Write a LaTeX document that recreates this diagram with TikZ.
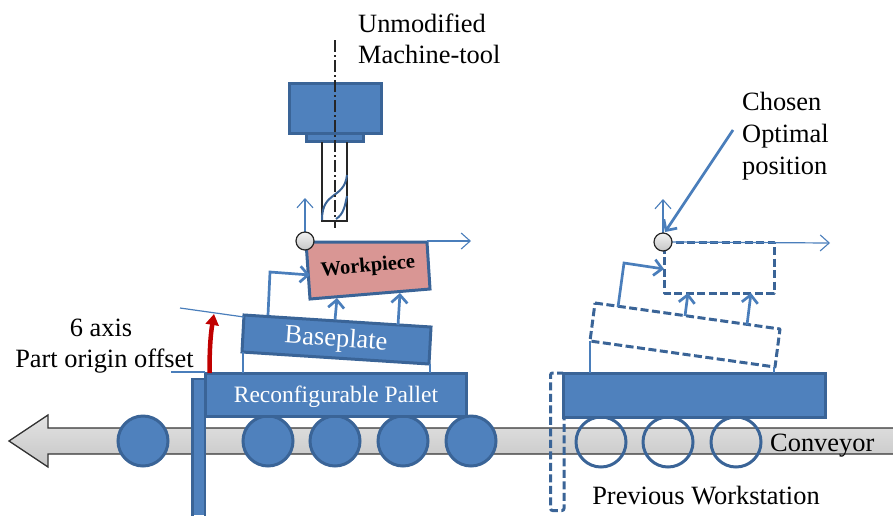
\documentclass[tikz,border=0pt]{standalone}
\usepackage{fontspec}
\setmainfont{Liberation Serif}
\usetikzlibrary{arrows.meta}
\definecolor{bfill}{HTML}{4F81BD}
\definecolor{bedge}{HTML}{3A6497}
\definecolor{bline}{HTML}{4A7EBB}
\definecolor{pinkf}{HTML}{D99694}
\definecolor{redarrow}{HTML}{C00000}
\newcommand{\fs}[1]{\fontsize{#1}{#1}\selectfont}
\tikzset{
  solidpart/.style={draw=bedge,fill=bfill,line width=3pt,line join=miter},
  hollowwheel/.style={draw=bedge,line width=3pt},
  dashpart/.style={draw=bedge,line width=3pt,dash pattern=on 8pt off 3.5pt,line join=round},
  thinline/.style={draw=bline,line width=1.2pt},
  thinaxis/.style={thinline,-{Straight Barb[length=9pt,width=16pt,line width=1.1pt]}},
  link/.style={draw=bline,line width=2.7pt,-{Straight Barb[length=8pt,width=16pt,line width=2.7pt]}},
  origin/.style={draw=black!85,line width=1.2pt,top color=gray!10,bottom color=gray!45},
  label/.style={inner sep=0pt,text=black},
}
\begin{document}
\begin{tikzpicture}[x=1pt,y=-1pt]
\useasboundingbox (0,0) rectangle (893,515);
% conveyor
\path[top color=gray!22,bottom color=gray!45] (893,428) -- (48,428) -- (48,415) -- (9,441) -- (48,467) -- (48,454) -- (893,454) -- cycle;
\draw[black!80,line width=1.3pt] (893,428) -- (48,428) -- (48,415) -- (9,441) -- (48,467) -- (48,454) -- (893,454);
% left wheels
\foreach \x in {143,268,335,403,471}
  \draw[solidpart] (\x,441) circle (25);
% right wheels
\foreach \x in {601,668,736}
  \draw[hollowwheel] (\x,442) circle (25);
% left post and pallet
\path[fill=bfill] (192,515) rectangle (205,379);
\draw[bedge,line width=2.5pt] (192.5,516) -- (192.5,379) -- (205,379) -- (205,516);
\draw[solidpart] (205.5,373.5) rectangle (466.5,416);
\node[label,text=white] at (336,396.5) {\fs{23.5}Reconfigurable Pallet};
% right post and pallet
\draw[dashpart,rounded corners=2pt] (564,375) -- (564,373) -- (550.5,373) -- (550.5,510.5) -- (564,510.5) -- (564,416);
\draw[solidpart] (563.5,373.5) rectangle (825,417);
% spindle
\draw[solidpart] (289.5,83.5) rectangle (381.5,133);
\draw[solidpart] (306,133) rectangle (363,141.5);
\draw[black!85,line width=1.4pt] (322,142) -- (322,221) -- (347,221) -- (347,142);
\draw[bedge,line width=2pt] (322,220) .. controls (322,190) and (344,200) .. (347,175);
\draw[bedge,line width=2pt] (336,219) .. controls (344,214) and (345,205) .. (347,196);
\draw[black!85,line width=1.1pt,dash pattern=on 12pt off 3pt on 2pt off 3pt] (335,40) -- (335,228);
% workpiece
\draw[solidpart,fill=pinkf] (306,242) -- (427,242) -- (430,289) -- (310,299) -- cycle;
\node[label,rotate=5,font=\bfseries] at (368,267) {\fs{20.5}Workpiece};
% baseplate
\draw[solidpart] (244,315) -- (431,327) -- (429,364) -- (242,352) -- cycle;
\node[label,text=white,rotate=-4] at (336,340) {\fs{26.5}Baseplate};
% thin reference lines
\draw[thinline] (180,308) -- (244,317);
\draw[thinline] (171,372) -- (205,372);
\draw[thinline] (243,352) -- (243,373);
\draw[thinline] (430,364) -- (430,373);
% red arrow
\draw[redarrow,line width=4.5pt,-{Triangle[length=11pt,width=13pt]}] (209.5,373) .. controls (209.5,350) and (210.5,335) .. (214,314);
% left links and axes
\draw[link] (268,315) -- (270,272) -- (310,275);
\draw[link] (335,320) -- (337,298);
\draw[link] (398,325) -- (400,293);
\draw[thinaxis] (305,240) -- (305,198);
\draw[thinaxis] (427,241) -- (471,241);
\draw[origin] (305,241) circle (9);
% right ghost shapes
\draw[dashpart] (595,303) -- (780,329) -- (775,367) -- (590,341) -- cycle;
\draw[dashpart] (664,242) -- (774,242) -- (774,293) -- (664,293) -- cycle;
\draw[thinline] (590,341) -- (590,373);
\draw[thinline] (774,367) -- (774,373);
\draw[link] (618,307) -- (624,263) -- (664,269);
\draw[link] (685,316) -- (688,293);
\draw[link] (747,325) -- (751,293);
\draw[thinaxis] (663,240) -- (663,199);
\draw[thinaxis] (672,242) -- (830,243);
\draw[link] (733,130) -- (665,232);
\draw[origin] (663,242) circle (9);
% texts
\node[label,anchor=base west] at (358,32) {\fs{26.4}Unmodified};
\node[label,anchor=base west] at (358,63) {\fs{26.4}Machine-tool};
\node[label,anchor=base west] at (742,110) {\fs{26.4}Chosen};
\node[label,anchor=base west] at (742,142) {\fs{26.4}Optimal};
\node[label,anchor=base west] at (742,174) {\fs{26.4}position};
\node[label,anchor=base] at (101,336) {\fs{26.4}6 axis};
\node[label,anchor=base] at (104.5,367) {\fs{26.4}Part origin offset};
\node[label,anchor=base west] at (770,451) {\fs{26.4}Conveyor};
\node[label,anchor=base] at (706,504) {\fs{26.4}Previous Workstation};
\end{tikzpicture}
\end{document}
